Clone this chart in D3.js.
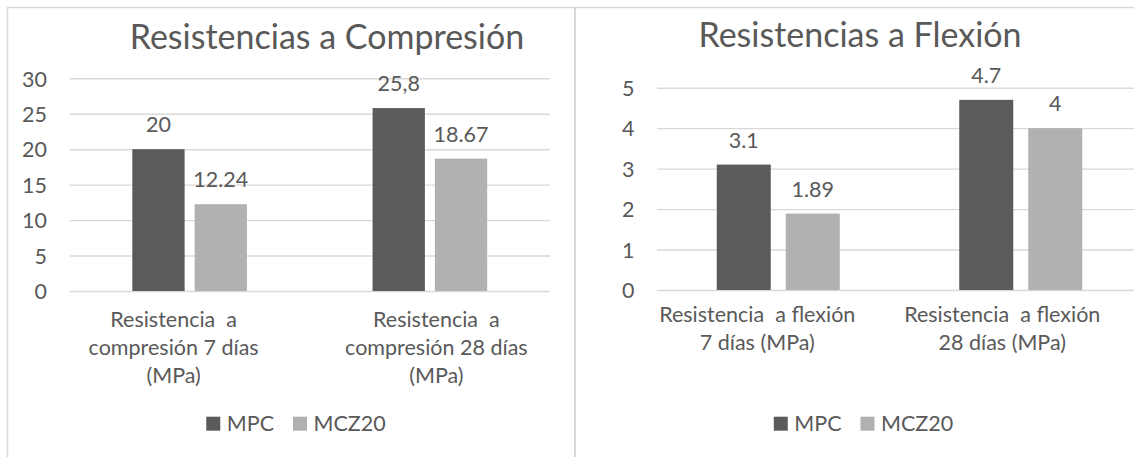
<!DOCTYPE html>
<html>
<head>
<meta charset="utf-8">
<script src="https://cdn.jsdelivr.net/npm/d3@7"></script>
<style>
  html, body { margin: 0; padding: 0; background: #ffffff; }
  svg { display: block; }
  text { font-family: Lato, "Open Sans", sans-serif; fill: #595959; }
</style>
</head>
<body>
<svg id="chart" width="1134" height="457"></svg>
<script>
// Series shared by both charts
const series = ["MPC", "MCZ20"];
const seriesColors = ["#5b5b5b", "#b1b1b1"];

// Compressive strength (MPa)
const compTitle = "Resistencias a Compresión";
const compCategories = ["Resistencia  a\ncompresión 7 días\n(MPa)", "Resistencia  a\ncompresión 28 días\n(MPa)"];
const compMPC = [20, 25.8];
const compMCZ20 = [12.24, 18.67];
const compMPCLabels = ["20", "25,8"];
const compMCZ20Labels = ["12.24", "18.67"];
const compTicks = [0, 5, 10, 15, 20, 25, 30];

// Flexural strength (MPa)
const flexTitle = "Resistencias a Flexión";
const flexCategories = ["Resistencia  a flexión\n7 días (MPa)", "Resistencia  a flexión\n28 días (MPa)"];
const flexMPC = [3.1, 4.7];
const flexMCZ20 = [1.89, 4];
const flexMPCLabels = ["3.1", "4.7"];
const flexMCZ20Labels = ["1.89", "4"];
const flexTicks = [0, 1, 2, 3, 4, 5];

const svg = d3.select("#chart");
const frameColor = "#d9d9d9";
const gridColor = "#d9d9d9";
const labelSize = 21.5;

// Chart frames
svg.append("line").attr("x1", 7).attr("x2", 1134).attr("y1", 7.5).attr("y2", 7.5)
  .attr("stroke", frameColor).attr("stroke-width", 1.5);
svg.append("line").attr("x1", 7.5).attr("x2", 7.5).attr("y1", 7).attr("y2", 457)
  .attr("stroke", frameColor).attr("stroke-width", 1.5);
svg.append("line").attr("x1", 575).attr("x2", 575).attr("y1", 7).attr("y2", 457)
  .attr("stroke", frameColor).attr("stroke-width", 2);

function drawPanel(cfg) {
  const g = svg.append("g");
  const rows = cfg.categories.map((c, i) => ({
    category: c,
    values: [
      { key: series[0], value: cfg.mpc[i], label: cfg.mpcLabels[i] },
      { key: series[1], value: cfg.mcz[i], label: cfg.mczLabels[i] }
    ]
  }));

  const x0 = d3.scaleBand().domain(cfg.categories).range([cfg.left, cfg.right]).padding(0);
  const step = cfg.barWidth + cfg.barGap;
  const pIn = cfg.barGap / step;
  const pOut = (x0.bandwidth() / step - 2 + pIn) / 2;
  const x1 = d3.scaleBand().domain(series).range([0, x0.bandwidth()])
    .paddingInner(pIn).paddingOuter(pOut);
  const y = d3.scaleLinear().domain([cfg.ticks[0], cfg.ticks[cfg.ticks.length - 1]])
    .range([cfg.bottom, cfg.top]);
  const color = d3.scaleOrdinal().domain(series).range(seriesColors);

  // Value axis with horizontal gridlines
  const yAxis = g.append("g")
    .attr("transform", `translate(${cfg.left},0)`)
    .call(d3.axisLeft(y).tickValues(cfg.ticks).tickFormat(d3.format("d"))
      .tickSize(-(cfg.right - cfg.left)).tickPadding(22.5));
  yAxis.select(".domain").remove();
  yAxis.selectAll(".tick line").attr("stroke", gridColor).attr("stroke-width", 1.4);
  yAxis.selectAll(".tick text")
    .attr("font-family", null)
    .style("font-size", labelSize + "px")
    .attr("fill", "#595959")
    .attr("dy", "0.36em");

  // Bars
  const groups = g.selectAll(".cat").data(rows).join("g")
    .attr("class", "cat")
    .attr("transform", d => `translate(${x0(d.category)},0)`);
  groups.selectAll("rect").data(d => d.values).join("rect")
    .attr("x", d => x1(d.key))
    .attr("y", d => y(d.value))
    .attr("width", x1.bandwidth())
    .attr("height", d => y(0) - y(d.value))
    .attr("fill", d => color(d.key));

  // Value labels
  groups.selectAll("text.val").data(d => d.values).join("text")
    .attr("class", "val")
    .attr("x", d => x1(d.key) + x1.bandwidth() / 2)
    .attr("y", d => y(d.value) - 17)
    .attr("text-anchor", "middle")
    .style("font-size", labelSize + "px")
    .text(d => d.label);

  // Category labels
  g.selectAll("text.catlabel").data(cfg.categories).join("text")
    .attr("class", "catlabel")
    .attr("text-anchor", "middle")
    .style("font-size", labelSize + "px")
    .style("white-space", "pre")
    .attr("transform", (d, i) => `translate(${x0(d) + x0.bandwidth() / 2 + cfg.catShift[i]},${cfg.catBaseline})`)
    .selectAll("tspan").data(d => d.split("\n")).join("tspan")
    .attr("x", 0)
    .attr("y", (d, i) => i * 28.2)
    .text(d => d);

  // Title
  g.append("text")
    .attr("x", cfg.titleX).attr("y", cfg.titleY)
    .attr("text-anchor", "middle")
    .style("font-size", "34px")
    .text(cfg.title);

  // Legend
  const legend = g.append("g");
  const items = legend.selectAll("g").data(series).join("g");
  items.append("rect").attr("width", 14).attr("height", 14).attr("y", -14)
    .attr("fill", d => color(d));
  items.append("text").attr("x", 20.5).attr("y", 0)
    .style("font-size", labelSize + "px").text(d => d);
  let pos = 0;
  items.each(function () {
    const t = d3.select(this).select("text").node().getComputedTextLength();
    d3.select(this).attr("transform", `translate(${pos},0)`);
    pos += 20.5 + t + 19;
  });
  const total = pos - 19;
  legend.attr("transform", `translate(${cfg.legendCenter - total / 2},${cfg.legendY})`);
}

drawPanel({
  title: compTitle, categories: compCategories,
  mpc: compMPC, mcz: compMCZ20, mpcLabels: compMPCLabels, mczLabels: compMCZ20Labels,
  ticks: compTicks,
  left: 69.5, right: 550, top: 78.3, bottom: 291,
  barWidth: 52.3, barGap: 10,
  catShift: [-16, 6.5], catBaseline: 326.7,
  titleX: 327, titleY: 49.3,
  legendCenter: 296, legendY: 430.7
});

drawPanel({
  title: flexTitle, categories: flexCategories,
  mpc: flexMPC, mcz: flexMCZ20, mpcLabels: flexMPCLabels, mczLabels: flexMCZ20Labels,
  ticks: flexTicks,
  left: 657, right: 1142, top: 87.7, bottom: 290,
  barWidth: 54, barGap: 15,
  catShift: [-21, -18.5], catBaseline: 322.3,
  titleX: 860, titleY: 47.3,
  legendCenter: 863.5, legendY: 430.7
});
</script>
</body>
</html>
